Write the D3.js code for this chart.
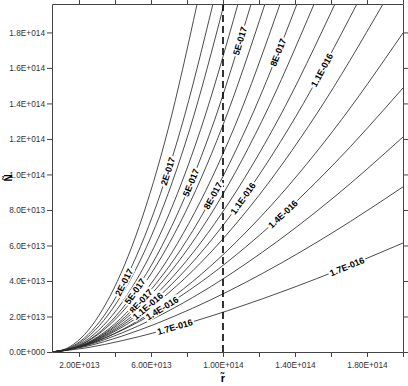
<!DOCTYPE html>
<html>
<head>
<meta charset="utf-8">
<script src="https://cdn.jsdelivr.net/npm/d3@7/dist/d3.min.js"></script>
<style>
    body { margin: 0; background: #fff; }
    svg { display: block; font-family: Arial, "Liberation Sans", sans-serif; }
</style>
</head>
<body>
<div id="chart"></div>
<script>
// Axis values are in units of 1E+013
const xTicks = [2, 4, 6, 8, 10, 12, 14, 16, 18, 20];
const xTickLabels = ["2.00E+013", "", "6.00E+013", "", "1.00E+014", "", "1.40E+014", "", "1.80E+014", ""];
const yTicks = [0, 2, 4, 6, 8, 10, 12, 14, 16, 18];
const yTickLabels = ["0.0E+000", "2.0E+013", "4.0E+013", "6.0E+013", "8.0E+013", "1.0E+014",
                     "1.2E+014", "1.4E+014", "1.6E+014", "1.8E+014"];
const markerX = 10; // dashed line at 1.00E+014

// Contour levels (units of 1E-017) and the points [x, y]
const levels = [1, 2, 3, 4, 5, 6, 7, 8, 9, 10, 11, 12, 13, 14, 15, 16, 17];
const c01 = [[0.5, 0], [1.31, 0.2], [2.11, 0.78], [3.72, 3.14], [5.34, 7.06], [6.95, 12.54], [8.56, 19.6]];
const c02 = [[0.5, 0], [1.39, 0.2], [2.29, 0.78], [4.08, 3.14], [5.86, 7.06], [7.65, 12.54], [9.44, 19.6]];
const c03 = [[0.5, 0], [1.46, 0.2], [2.41, 0.78], [4.32, 3.14], [6.24, 7.06], [8.15, 12.54], [10.06, 19.6]];
const c04 = [[0.5, 0], [1.53, 0.2], [2.57, 0.78], [4.63, 3.14], [6.70, 7.06], [8.76, 12.54], [10.83, 19.6]];
const c05 = [[0.5, 0], [1.61, 0.2], [2.71, 0.78], [4.92, 3.14], [7.14, 7.06], [9.35, 12.54], [11.56, 19.6]];
const c06 = [[0.5, 0], [1.68, 0.22], [2.87, 0.85], [5.23, 3.28], [7.60, 7.24], [9.96, 12.68], [12.33, 19.6]];
const c07 = [[0.5, 0], [1.77, 0.22], [3.03, 0.85], [5.57, 3.28], [8.10, 7.24], [10.64, 12.68], [13.17, 19.6]];
const c08 = [[0.5, 0], [1.86, 0.25], [3.22, 0.92], [5.94, 3.44], [8.67, 7.42], [11.39, 12.83], [14.11, 19.6]];
const c09 = [[0.5, 0], [1.96, 0.28], [3.41, 1.00], [6.32, 3.60], [9.24, 7.62], [12.15, 12.98], [15.06, 19.6]];
const c10 = [[0.5, 0], [2.07, 0.31], [3.64, 1.08], [6.79, 3.77], [9.93, 7.81], [13.08, 13.12], [16.22, 19.6]];
const c11 = [[0.5, 0], [2.19, 0.35], [3.89, 1.17], [7.28, 3.95], [10.66, 8.02], [14.05, 13.27], [17.44, 19.6]];
const c12 = [[0.5, 0], [2.34, 0.39], [4.18, 1.27], [7.86, 4.13], [11.53, 8.22], [15.21, 13.42], [18.89, 19.6]];
const c13 = [[0.5, 0], [2.45, 0.40], [4.4, 1.26], [8.3, 3.96], [12.2, 7.73], [16.1, 12.44], [20, 17.97]];
const c14 = [[0.5, 0], [2.45, 0.42], [4.4, 1.23], [8.3, 3.60], [12.2, 6.73], [16.1, 10.52], [20, 14.87]];
const c15 = [[0.5, 0], [2.45, 0.38], [4.4, 1.08], [8.3, 3.06], [12.2, 5.63], [16.1, 8.66], [20, 12.11]];
const c16 = [[0.5, 0], [2.45, 0.33], [4.4, 0.90], [8.3, 2.46], [12.2, 4.43], [16.1, 6.73], [20, 9.30]];
const c17 = [[0.5, 0], [2.45, 0.24], [4.4, 0.64], [8.3, 1.70], [12.2, 3.00], [16.1, 4.49], [20, 6.14]];
const contours = [c01, c02, c03, c04, c05, c06, c07, c08, c09, c10, c11, c12, c13, c14, c15, c16, c17];

// Labelled contours
const labelLevels = [2, 5, 8, 11, 14, 17];
const labelTexts = ["2E-017", "5E-017", "8E-017", "1.1E-016", "1.4E-016", "1.7E-016"];
// where along each labelled contour the labels sit (x, units of 1E+013)
const labelPlaces = [[4.5, 6.94], [5.11, 8.22, 10.94], [5.44, 9.44, 13.06],
                     [5.83, 11.11, 15.5], [6.61, 13.33], [7.33, 16.89]];

const W = 408, H = 386;
const margin = { top: 4, right: 5, bottom: 34, left: 52 };
const width = W - margin.left - margin.right;
const height = H - margin.top - margin.bottom;

const svg = d3.select("#chart").append("svg")
    .attr("width", W)
    .attr("height", H);

const g = svg.append("g")
    .attr("transform", `translate(${margin.left},${margin.top})`);

const x = d3.scaleLinear().domain([0.5, 20]).range([0, width]);
const y = d3.scaleLinear().domain([0, 19.6]).range([height, 0]);

g.append("clipPath").attr("id", "plotClip")
    .append("rect").attr("width", width).attr("height", height);

const plot = g.append("g").attr("clip-path", "url(#plotClip)");

const line = d3.line()
    .x(d => x(d[0]))
    .y(d => y(d[1]))
    .curve(d3.curveMonotoneX);

const paths = {};
contours.forEach((pts, i) => {
    paths[levels[i]] = plot.append("path")
        .datum(pts)
        .attr("fill", "none")
        .attr("stroke", "#2a2a2a")
        .attr("stroke-width", 0.85)
        .attr("d", line);
});

// dashed marker line
plot.append("line")
    .attr("x1", x(markerX)).attr("x2", x(markerX))
    .attr("y1", 0).attr("y2", height)
    .attr("stroke", "#000")
    .attr("stroke-width", 1.6)
    .attr("stroke-dasharray", "7,4");

// contour labels
const labelLayer = plot.append("g");
labelLevels.forEach((lev, i) => {
    const node = paths[lev].node();
    const total = node.getTotalLength();
    labelPlaces[i].forEach(xv => {
        const px = x(xv);
        let lo = 0, hi = total;
        for (let k = 0; k < 40; k++) {
            const mid = (lo + hi) / 2;
            if (node.getPointAtLength(mid).x < px) lo = mid; else hi = mid;
        }
        const p = node.getPointAtLength(lo);
        const a = node.getPointAtLength(Math.max(0, lo - 4));
        const b = node.getPointAtLength(Math.min(total, lo + 4));
        const ang = Math.atan2(b.y - a.y, b.x - a.x) * 180 / Math.PI;
        const lg = labelLayer.append("g")
            .attr("transform", `translate(${p.x},${p.y}) rotate(${ang})`);
        const t = lg.append("text")
            .attr("text-anchor", "middle")
            .attr("dy", "0.35em")
            .style("font-size", "9px")
            .style("font-weight", "bold")
            .attr("fill", "#000")
            .text(labelTexts[i]);
        const w = t.node().getComputedTextLength();
        lg.insert("rect", "text")
            .attr("x", -w / 2 - 1.5).attr("y", -4.5)
            .attr("width", w + 3).attr("height", 9)
            .attr("fill", "#fff");
    });
});

// axes
const xAxis = g.append("g")
    .attr("transform", `translate(0,${height})`)
    .call(d3.axisBottom(x).tickValues(xTicks).tickSize(5).tickSizeOuter(0).tickPadding(5)
        .tickFormat((d, i) => xTickLabels[i]));
const xTop = g.append("g")
    .call(d3.axisTop(x).tickValues(xTicks).tickSize(5).tickSizeOuter(0).tickFormat(""));
const yAxis = g.append("g")
    .call(d3.axisLeft(y).tickValues(yTicks).tickSize(5).tickSizeOuter(0).tickPadding(2)
        .tickFormat((d, i) => yTickLabels[i]));
const yRight = g.append("g")
    .attr("transform", `translate(${width},0)`)
    .call(d3.axisRight(y).tickValues(yTicks).tickSize(5).tickSizeOuter(0).tickFormat(""));

[xAxis, xTop, yAxis, yRight].forEach(ax => {
    ax.selectAll("path, line").attr("stroke", "#444");
    ax.selectAll("text")
        .attr("fill", "#333")
        .style("font-size", "8.3px")
        .style("font-family", "Arial, 'Liberation Sans', sans-serif");
});

// axis titles
svg.append("text")
    .attr("x", margin.left + x(markerX))
    .attr("y", 382)
    .attr("text-anchor", "middle")
    .style("font-size", "11px")
    .style("font-weight", "bold")
    .text("r\u0303");

svg.append("text")
    .attr("transform", `translate(12,${margin.top + height / 2}) rotate(-90)`)
    .attr("text-anchor", "middle")
    .style("font-size", "10px")
    .style("font-weight", "bold")
    .text("N\u0303");
</script>
</body>
</html>
